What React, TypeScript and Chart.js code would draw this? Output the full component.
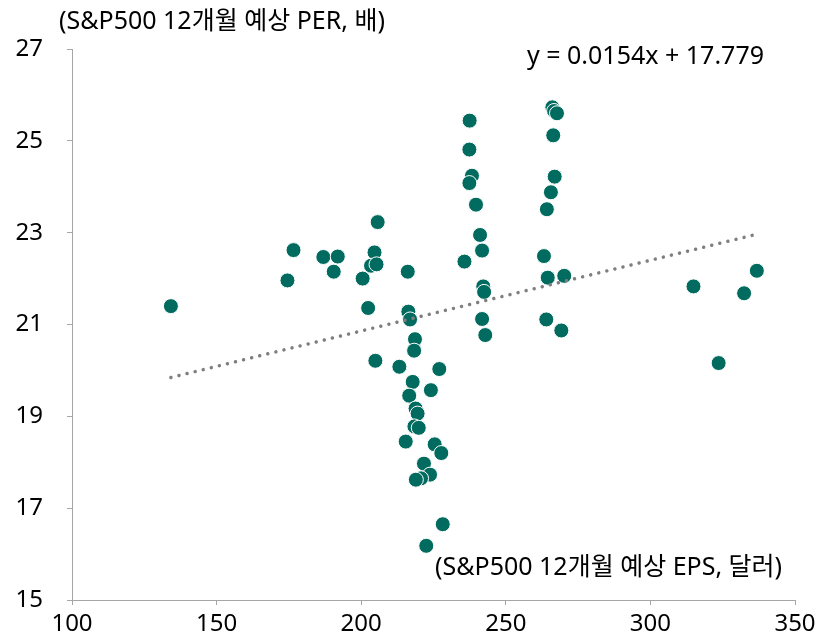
import { useEffect, useRef } from "react";
import { Chart, registerables } from "chart.js";

Chart.register(...registerables);

// S&P500 12-month forward EPS (dollars)
const epsValues = [
  134.2, 174.5, 176.6, 186.9, 191.9, 190.5, 200.5, 202.4, 204.6, 203.4,
  205.3, 205.7, 204.9, 216.1, 216.3, 216.9, 218.6, 218.3, 213.2, 227.0,
  217.8, 224.1, 216.6, 218.8, 219.5, 218.4, 219.9, 215.4, 225.4, 227.7,
  221.7, 223.8, 220.7, 218.9, 228.2, 222.5, 237.5, 237.4, 238.3, 237.4,
  239.7, 241.1, 241.8, 235.7, 242.2, 242.5, 241.8, 242.9, 266.1, 266.7,
  267.7, 266.4, 266.9, 265.6, 264.2, 263.2, 264.5, 270.2, 264.0, 269.2,
  314.9, 332.4, 336.8, 323.6,
];

// S&P500 12-month forward PER (x)
const perValues = [
  21.40, 21.96, 22.62, 22.47, 22.48, 22.15, 22.00, 21.36, 22.57, 22.28,
  22.31, 23.23, 20.21, 22.15, 21.28, 21.11, 20.68, 20.43, 20.08, 20.03,
  19.75, 19.57, 19.45, 19.17, 19.06, 18.78, 18.75, 18.45, 18.39, 18.20,
  17.97, 17.73, 17.65, 17.62, 16.65, 16.18, 25.44, 24.81, 24.24, 24.08,
  23.61, 22.95, 22.61, 22.37, 21.83, 21.71, 21.12, 20.77, 25.73, 25.65,
  25.60, 25.12, 24.22, 23.88, 23.51, 22.49, 22.02, 22.06, 21.11, 20.87,
  21.83, 21.68, 22.17, 20.16,
];

const xTickValues = [100, 150, 200, 250, 300, 350];
const yTickValues = [15, 17, 19, 21, 23, 25, 27];

const trendSlope = 0.0154;
const trendIntercept = 17.779;

const yAxisTitle = "(S&P500 12개월 예상 PER, 배)";
const xAxisTitle = "(S&P500 12개월 예상 EPS, 달러)";
const equationText = `y = ${trendSlope}x + ${trendIntercept}`;

const FONT = "'Noto Sans', 'Noto Sans CJK KR', sans-serif";

export default function App() {
  const canvasRef = useRef<HTMLCanvasElement | null>(null);

  useEffect(() => {
    const canvas = canvasRef.current;
    if (!canvas) return;

    const points = epsValues.map((x, i) => ({ x, y: perValues[i] }));
    const minX = Math.min(...epsValues);
    const maxX = Math.max(...epsValues);
    const trend = [
      { x: minX, y: trendSlope * minX + trendIntercept },
      { x: maxX, y: trendSlope * maxX + trendIntercept },
    ];

    const textPlugin = {
      id: "textLabels",
      afterDraw(chart: any) {
        const ctx = chart.ctx;
        ctx.save();
        ctx.font = `25px ${FONT}`;
        ctx.fillStyle = "#000";
        ctx.textBaseline = "middle";
        ctx.textAlign = "left";
        ctx.fillText(yAxisTitle, 59, 22);
        ctx.fillText(equationText, 527, 57);
        ctx.fillText(xAxisTitle, 435, 568);
        ctx.restore();
      },
    };

    const chart = new Chart(canvas, {
      type: "scatter",
      data: {
        datasets: [
          {
            label: "trend",
            data: trend,
            showLine: true,
            borderColor: "#7f7f7f",
            borderWidth: 3.5,
            borderDash: [0.01, 8.3],
            borderCapStyle: "round",
            pointRadius: 0,
            pointHoverRadius: 0,
            fill: false,
            order: 0,
          } as any,
          {
            label: "PER vs EPS",
            data: points,
            backgroundColor: "#006b5e",
            borderColor: "#ffffff",
            borderWidth: 1,
            pointRadius: 7.5,
            pointHoverRadius: 7.5,
            order: 1,
          },
        ],
      },
      options: {
        responsive: false,
        animation: false,
        events: [],
        layout: { padding: { left: 0, right: 36, top: 49, bottom: 0 } },
        plugins: {
          legend: { display: false },
          tooltip: { enabled: false },
          title: { display: false },
        },
        scales: {
          x: {
            type: "linear",
            min: 100,
            max: 350,
            afterBuildTicks: (s: any) => {
              s.ticks = xTickValues.map((v) => ({ value: v }));
            },
            afterFit: (s: any) => {
              s.height = 39;
            },
            grid: {
              display: true,
              drawOnChartArea: false,
              drawTicks: true,
              tickLength: 5,
              color: "#a6a6a6",
            },
            border: { display: true, color: "#a6a6a6", width: 1 },
            ticks: {
              color: "#000",
              font: { size: 24, family: FONT },
              padding: 5,
              maxRotation: 0,
              autoSkip: false,
            },
          },
          y: {
            type: "linear",
            min: 15,
            max: 27,
            afterBuildTicks: (s: any) => {
              s.ticks = yTickValues.map((v) => ({ value: v }));
            },
            afterFit: (s: any) => {
              s.width = 72;
            },
            grid: {
              display: true,
              drawOnChartArea: false,
              drawTicks: true,
              tickLength: 5,
              color: "#a6a6a6",
            },
            border: { display: true, color: "#a6a6a6", width: 1 },
            ticks: {
              color: "#000",
              font: { size: 24, family: FONT },
              padding: 24,
              autoSkip: false,
            },
          },
        },
      },
      plugins: [textPlugin],
    });

    return () => chart.destroy();
  }, []);

  return (
    <div style={{ position: "absolute", left: 0, top: 0, width: 831, height: 639 }}>
      <canvas ref={canvasRef} width={831} height={639} style={{ display: "block" }} />
    </div>
  );
}
